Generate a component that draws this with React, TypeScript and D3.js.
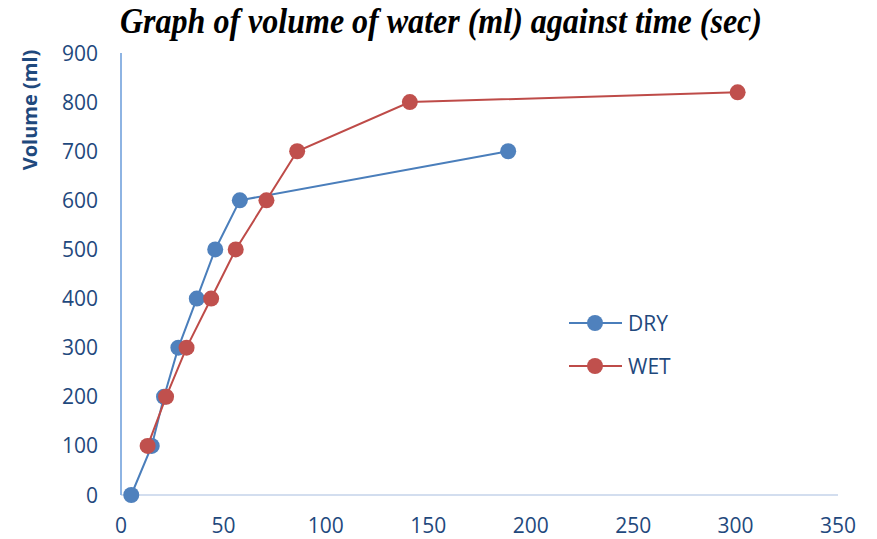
// @ts-nocheck
import React, { useEffect, useRef } from 'react'
import * as d3 from 'd3'

const dryTime = [5, 15, 21, 28, 37, 46, 58, 189]
const dryVolume = [0, 100, 200, 300, 400, 500, 600, 700]
const wetTime = [13, 22, 32, 44, 56, 71, 86, 141, 301]
const wetVolume = [100, 200, 300, 400, 500, 600, 700, 800, 820]
const xTicks = [0, 50, 100, 150, 200, 250, 300, 350]
const yTicks = [0, 100, 200, 300, 400, 500, 600, 700, 800, 900]

const series = [
    { name: 'DRY', color: '#4A7EBB', fill: '#4F81BD', x: dryTime, y: dryVolume },
    { name: 'WET', color: '#BE4B48', fill: '#C0504D', x: wetTime, y: wetVolume },
]

const App = () => {
    const ref = useRef(null)

    useEffect(() => {
        const left = 121, right = 838, top = 53, bottom = 495
        const labelColor = '#1F497D'
        const font = '"Open Sans", sans-serif'

        const svg = d3.select(ref.current)
        svg.selectAll('*').remove()

        const x = d3.scaleLinear([0, 350], [left, right])
        const y = d3.scaleLinear([0, 900], [bottom, top])

        // title (condensed bold italic serif)
        svg.append('text')
            .attr('x', 441).attr('y', 33)
            .attr('text-anchor', 'middle')
            .attr('font-family', '"Liberation Serif", serif')
            .attr('font-style', 'italic').attr('font-weight', 'bold')
            .attr('font-size', 35)
            .attr('textLength', 642)
            .attr('lengthAdjust', 'spacingAndGlyphs')
            .text('Graph of volume of water (ml) against time (sec)')

        // axis title
        svg.append('text')
            .attr('transform', `translate(37, 110) rotate(-90)`)
            .attr('text-anchor', 'middle')
            .attr('font-family', font).attr('font-weight', 'bold')
            .attr('font-size', 20).attr('fill', labelColor)
            .text('Volume (ml)')

        // axes lines
        svg.append('line')
            .attr('x1', left).attr('x2', right).attr('y1', bottom).attr('y2', bottom)
            .attr('stroke', '#D3DEEF').attr('stroke-width', 2)
        svg.append('line')
            .attr('x1', left).attr('x2', left).attr('y1', top).attr('y2', bottom)
            .attr('stroke', '#8EB4E3').attr('stroke-width', 2)

        // tick labels
        svg.append('g').selectAll('text').data(yTicks).join('text')
            .attr('x', 98).attr('y', d => y(d) + 7.5)
            .attr('text-anchor', 'end')
            .attr('font-family', font).attr('font-size', 21).attr('fill', labelColor)
            .text(d => d)
        svg.append('g').selectAll('text').data(xTicks).join('text')
            .attr('x', d => x(d)).attr('y', 533)
            .attr('text-anchor', 'middle')
            .attr('font-family', font).attr('font-size', 21).attr('fill', labelColor)
            .text(d => d)

        const line = d3.line().x(d => x(d[0])).y(d => y(d[1]))

        series.forEach((s, i) => {
            const pts = s.x.map((t, j) => [t, s.y[j]])
            const g = svg.append('g')
            g.append('path')
                .attr('fill', 'none').attr('stroke', s.color).attr('stroke-width', 2)
                .attr('d', line(pts))
            g.selectAll('circle').data(pts).join('circle')
                .attr('cx', d => x(d[0])).attr('cy', d => y(d[1]))
                .attr('r', 8).attr('fill', s.fill)

            // legend
            const ly = 323 + i * 43
            g.append('line')
                .attr('x1', 569).attr('x2', 622).attr('y1', ly).attr('y2', ly)
                .attr('stroke', s.color).attr('stroke-width', 2)
            g.append('circle').attr('cx', 595).attr('cy', ly).attr('r', 8).attr('fill', s.fill)
            g.append('text')
                .attr('x', 628).attr('y', ly + 7.5)
                .attr('font-family', font).attr('font-size', 21).attr('fill', labelColor)
                .text(s.name)
        })
    }, [])

    return <svg ref={ref} width={877} height={539} style={{ position: 'absolute', left: 0, top: 0 }}></svg>
}

export default App
